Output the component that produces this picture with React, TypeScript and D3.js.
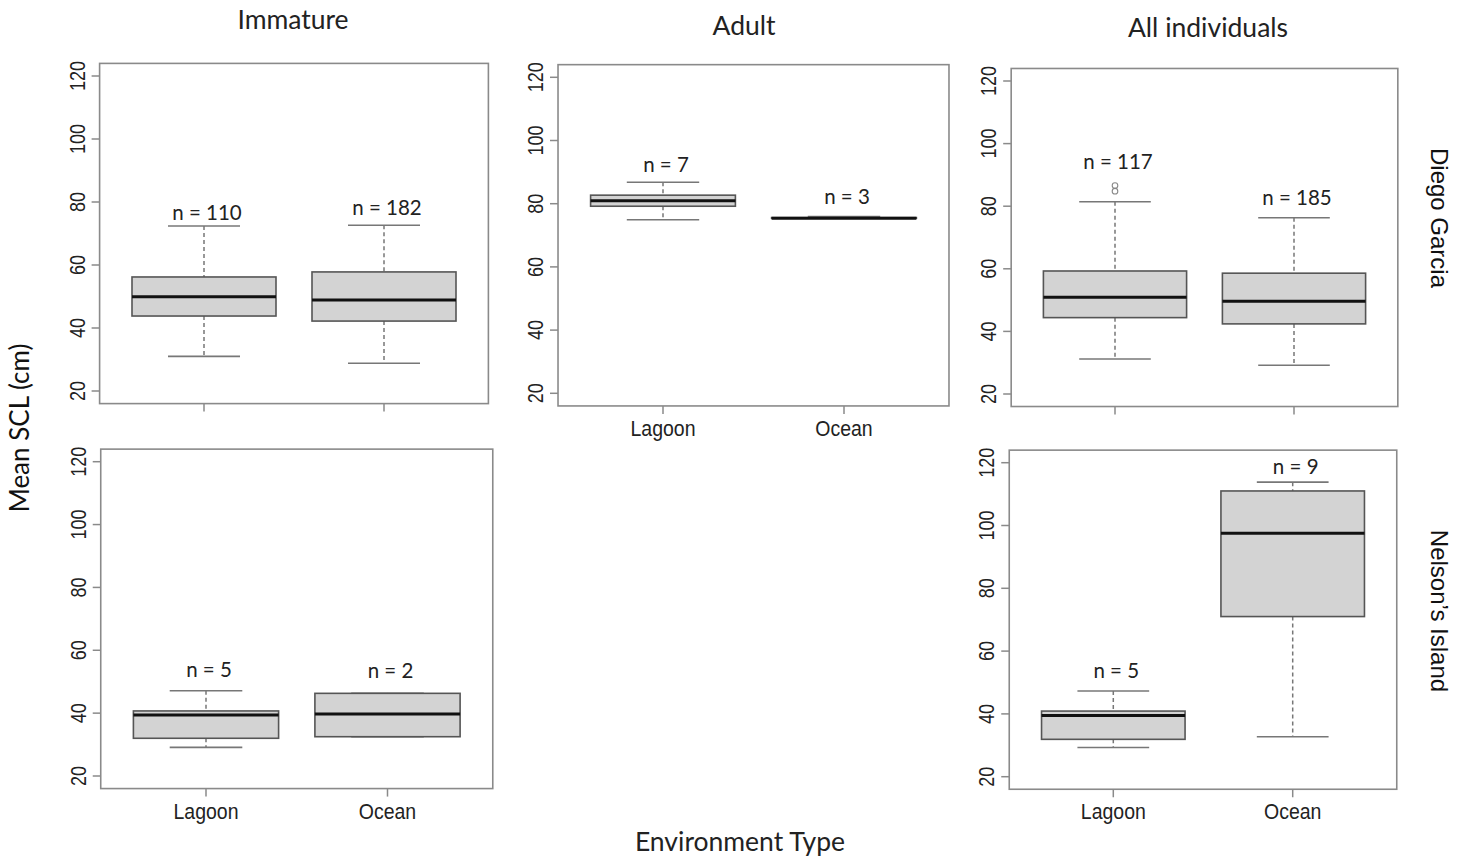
import React from "react";
import * as d3 from "d3";

// ---- data ----
const categories = ["Lagoon", "Ocean"];
const yTicks = [20, 40, 60, 80, 100, 120];

// box stats: [lower whisker, Q1, median, Q3, upper whisker]
const immatureDiegoGarcia = [
  [31.0, 43.8, 49.9, 56.2, 72.4],
  [28.8, 42.2, 48.9, 57.8, 72.6],
];
const immatureDiegoGarciaN = [110, 182];
const immatureDiegoGarciaLabelY = [76.7, 78.0];

const adultDiegoGarcia = [
  [74.9, 79.2, 80.9, 82.7, 86.8],
  [75.4, 75.4, 75.4, 75.6, 75.9],
];
const adultDiegoGarciaN = [7, 3];
const adultDiegoGarciaLabelY = [92.3, 82.2];

const allDiegoGarcia = [
  [31.2, 44.4, 50.9, 59.3, 81.4],
  [29.2, 42.4, 49.6, 58.6, 76.3],
];
const allDiegoGarciaOutliers = [[84.8, 86.6], []];
const allDiegoGarciaN = [117, 185];
const allDiegoGarciaLabelY = [94.2, 82.7];

const immatureNelson = [
  [29.1, 32.0, 39.4, 40.7, 47.1],
  [32.5, 32.5, 39.7, 46.3, 46.3],
];
const immatureNelsonN = [5, 2];
const immatureNelsonLabelY = [53.7, 53.5];

const allNelson = [
  [29.3, 31.9, 39.5, 40.9, 47.3],
  [32.7, 71.0, 97.5, 111.0, 113.8],
];
const allNelsonN = [5, 9];
const allNelsonLabelY = [53.8, 118.7];

const colTitles = ["Immature", "Adult", "All individuals"];
const rowTitles = ["Diego Garcia", "Nelson\u2019s Island"];

// ---- layout ----
const panels = [
  { stats: immatureDiegoGarcia, outliers: [[], []], n: immatureDiegoGarciaN, labelY: immatureDiegoGarciaLabelY, x1: 204, x2: 384, y20: 391, y120: 76, showX: false },
  { stats: adultDiegoGarcia, outliers: [[], []], n: adultDiegoGarciaN, labelY: adultDiegoGarciaLabelY, x1: 663, x2: 844, y20: 393.3, y120: 77.3, showX: true },
  { stats: allDiegoGarcia, outliers: allDiegoGarciaOutliers, n: allDiegoGarciaN, labelY: allDiegoGarciaLabelY, x1: 1115, x2: 1294, y20: 394, y120: 81, showX: false },
  { stats: immatureNelson, outliers: [[], []], n: immatureNelsonN, labelY: immatureNelsonLabelY, x1: 206, x2: 387.5, y20: 776, y120: 461.7, showX: true },
  { stats: allNelson, outliers: [[], []], n: allNelsonN, labelY: allNelsonLabelY, x1: 1113.3, x2: 1292.7, y20: 776.7, y120: 462.7, showX: true },
];

const ARIAL = "'Liberation Sans', Arial, sans-serif";
const CAL = "Lato, 'Open Sans', sans-serif";
const FRAME = "#8a8a8a";

function Panel({ p }: { p: any }) {
  const x = d3.scaleLinear().domain([1, 2]).range([p.x1, p.x2]);
  const y = d3.scaleLinear().domain([20, 120]).range([p.y20, p.y120]);
  const left = x(0.42), right = x(2.58), top = y(124), bottom = y(16);
  const bw = x(1.4) - x(1);
  const cw = x(1.2) - x(1);
  return (
    <g>
      <rect x={left} y={top} width={right - left} height={bottom - top} fill="none" stroke={FRAME} strokeWidth={1.6} />
      {yTicks.map((t) => (
        <g key={t}>
          <line x1={left - 8} x2={left} y1={y(t)} y2={y(t)} stroke={FRAME} strokeWidth={1.5} />
          <text
            transform={`translate(${left - 15},${y(t)}) rotate(-90) scale(1,1.25)`}
            textAnchor="middle"
            fontFamily={ARIAL}
            fontSize={18}
            fill="#222"
          >
            {t}
          </text>
        </g>
      ))}
      {categories.map((c, i) => (
        <g key={c}>
          <line x1={x(i + 1)} x2={x(i + 1)} y1={bottom} y2={bottom + 8} stroke={FRAME} strokeWidth={1.5} />
          {p.showX && (
            <text
              transform={`translate(${x(i + 1)},${bottom + 30}) scale(1,1.1)`}
              textAnchor="middle"
              fontFamily={ARIAL}
              fontSize={19.5}
              fill="#222"
            >
              {c}
            </text>
          )}
        </g>
      ))}
      {p.stats.map((s: number[], i: number) => {
        const cx = x(i + 1);
        const [lo, q1, med, q3, hi] = s;
        return (
          <g key={i}>
            <line x1={cx} x2={cx} y1={y(hi)} y2={y(q3)} stroke="#777" strokeWidth={1.5} strokeDasharray="4,3" />
            <line x1={cx} x2={cx} y1={y(q1)} y2={y(lo)} stroke="#777" strokeWidth={1.5} strokeDasharray="4,3" />
            <line x1={cx - cw} x2={cx + cw} y1={y(hi)} y2={y(hi)} stroke="#777" strokeWidth={1.6} />
            <line x1={cx - cw} x2={cx + cw} y1={y(lo)} y2={y(lo)} stroke="#777" strokeWidth={1.6} />
            <rect x={cx - bw} y={y(q3)} width={2 * bw} height={Math.max(0.5, y(q1) - y(q3))} fill="#d3d3d3" stroke="#555" strokeWidth={1.6} />
            <line x1={cx - bw} x2={cx + bw} y1={y(med)} y2={y(med)} stroke="#111" strokeWidth={3} />
            {p.outliers[i].map((o: number, k: number) => (
              <circle key={k} cx={cx} cy={y(o)} r={2.8} fill="none" stroke="#888" strokeWidth={1.1} />
            ))}
            <text x={cx + 3} y={y(p.labelY[i])} dy="0.35em" textAnchor="middle" fontFamily={CAL} fontSize={20.5} fill="#222">
              {`n = ${p.n[i]}`}
            </text>
          </g>
        );
      })}
    </g>
  );
}

export default function App() {
  return (
    <svg
      width={1469}
      height={863}
      style={{ position: "absolute", left: 0, top: 0, background: "#fff" }}
    >
      <rect x={0} y={0} width={1469} height={863} fill="#fff" />
      {panels.map((p, i) => (
        <Panel key={i} p={p} />
      ))}
      <text x={293} y={29} textAnchor="middle" fontFamily={CAL} fontSize={26.5} fill="#222">{colTitles[0]}</text>
      <text x={744} y={35} textAnchor="middle" fontFamily={CAL} fontSize={26.5} fill="#222">{colTitles[1]}</text>
      <text x={1208} y={37} textAnchor="middle" fontFamily={CAL} fontSize={26.5} fill="#222">{colTitles[2]}</text>
      <text transform="translate(1431,218) rotate(90)" textAnchor="middle" fontFamily={ARIAL} fontSize={24} fill="#111">{rowTitles[0]}</text>
      <text transform="translate(1431,611) rotate(90)" textAnchor="middle" fontFamily={ARIAL} fontSize={24} fill="#111">{rowTitles[1]}</text>
      <text transform="translate(29,428) rotate(-90)" textAnchor="middle" fontFamily={CAL} fontSize={26} fill="#111">Mean SCL (cm)</text>
      <text x={740} y={851} textAnchor="middle" fontFamily={CAL} fontSize={26.5} fill="#222">Environment Type</text>
    </svg>
  );
}
